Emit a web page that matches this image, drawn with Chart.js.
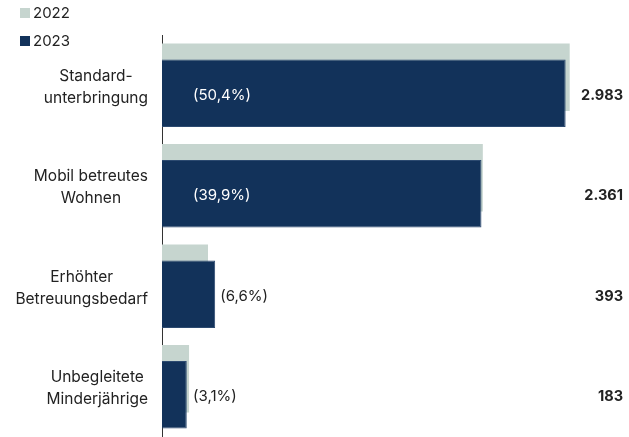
<!DOCTYPE html>
<html>
<head>
<meta charset="utf-8">
<script src="https://cdn.jsdelivr.net/npm/chart.js@4.4.1/dist/chart.umd.min.js"></script>
<style>
    body { margin: 0; background: #fff; font-family: Inter, sans-serif; }
    #wrap { position: relative; width: 629px; height: 437px; }
    .legend { position: absolute; left: 20px; font-size: 15px; color: #222; }
    .legend span.box { display: inline-block; width: 10px; height: 10px; margin-right: 3px; }
</style>
</head>
<body>
<div id="wrap">
    <canvas id="chart" width="629" height="437"></canvas>
    <div class="legend" style="top:3px"><span class="box" style="background:#c6d5cf"></span>2022</div>
    <div class="legend" style="top:31px"><span class="box" style="background:#12325a"></span>2023</div>
</div>
<script>
const categories = [
    ['Standard-', 'unterbringung'],
    ['Mobil betreutes', 'Wohnen'],
    ['Erhöhter', 'Betreuungsbedarf'],
    ['Unbegleitete', 'Minderjährige'],
];
const values2022 = [3013, 2371, 340, 200];
const values2023 = [2983, 2361, 393, 183];
const shares2023 = ['(50,4%)', '(39,9%)', '(6,6%)', '(3,1%)'];

const light = '#c6d5cf';
const dark = '#12325a';
const font = 'Inter, sans-serif';

function formatNumber(v) {
    return String(v).replace(/\B(?=(\d{3})+(?!\d))/g, '.');
}

// draw 2022 first so that 2023 lies on top of it
const drawOrder = {
    id: 'drawOrder',
    beforeDatasetsDraw(chart) {
        chart.data.datasets.forEach((ds, i) => chart.getDatasetMeta(i).controller.draw());
        return false;
    }
};

// category labels: each block right aligned, lines centred within the block
const labelsPlugin = {
    id: 'labelsPlugin',
    afterDraw(chart) {
        const ctx = chart.ctx;
        const yScale = chart.scales.y;
        const area = chart.chartArea;
        ctx.save();
        ctx.font = '15.5px ' + font;
        ctx.textBaseline = 'middle';
        ctx.fillStyle = '#222';
        ctx.textAlign = 'center';
        categories.forEach((lines, i) => {
            const cy = yScale.getPixelForTick(i) + 2;
            const w = Math.max(...lines.map(l => ctx.measureText(l).width));
            const cx = area.left - 14 - w / 2;
            lines.forEach((l, j) => {
                ctx.fillText(l, cx, cy + (j - (lines.length - 1) / 2) * 22);
            });
        });

        // shares and totals next to 2023 bars
        const meta = chart.getDatasetMeta(1);
        meta.data.forEach((bar, i) => {
            const y = bar.y + 2;
            ctx.font = '15px ' + font;
            ctx.textAlign = 'left';
            const tw = ctx.measureText(shares2023[i]).width;
            const inside = area.left + 31;
            if (bar.x > inside + tw + 10) {
                ctx.fillStyle = '#fff';
                ctx.fillText(shares2023[i], inside, y);
            } else {
                ctx.fillStyle = '#222';
                ctx.fillText(shares2023[i], Math.max(inside, bar.x + 5), y);
            }
            ctx.font = 'bold 14.5px ' + font;
            ctx.textAlign = 'right';
            ctx.fillStyle = '#222';
            ctx.fillText(formatNumber(values2023[i]), 623, y);
        });
        ctx.restore();
    }
};

new Chart(document.getElementById('chart'), {
    type: 'bar',
    data: {
        labels: categories,
        datasets: [{
            label: '2022',
            data: values2022,
            backgroundColor: light,
            borderWidth: 0,
        }, {
            label: '2023',
            data: values2023,
            backgroundColor: dark,
            borderColor: '#2c4a70',
            borderWidth: 1,
        }]
    },
    options: {
        indexAxis: 'y',
        responsive: false,
        animation: false,
        categoryPercentage: 0.32,
        barPercentage: 4.2,
        layout: { padding: { top: 35, right: 34, bottom: 0, left: 0 } },
        plugins: {
            legend: { display: false },
            tooltip: { enabled: false },
        },
        scales: {
            x: {
                display: false,
                min: 0,
                max: 3200,
            },
            y: {
                afterFit: (scale) => { scale.width = 162; },
                grid: { display: false, drawTicks: false },
                border: { display: true, color: '#333', width: 1 },
                ticks: { display: false },
            }
        }
    },
    plugins: [drawOrder, labelsPlugin]
});
</script>
</body>
</html>
